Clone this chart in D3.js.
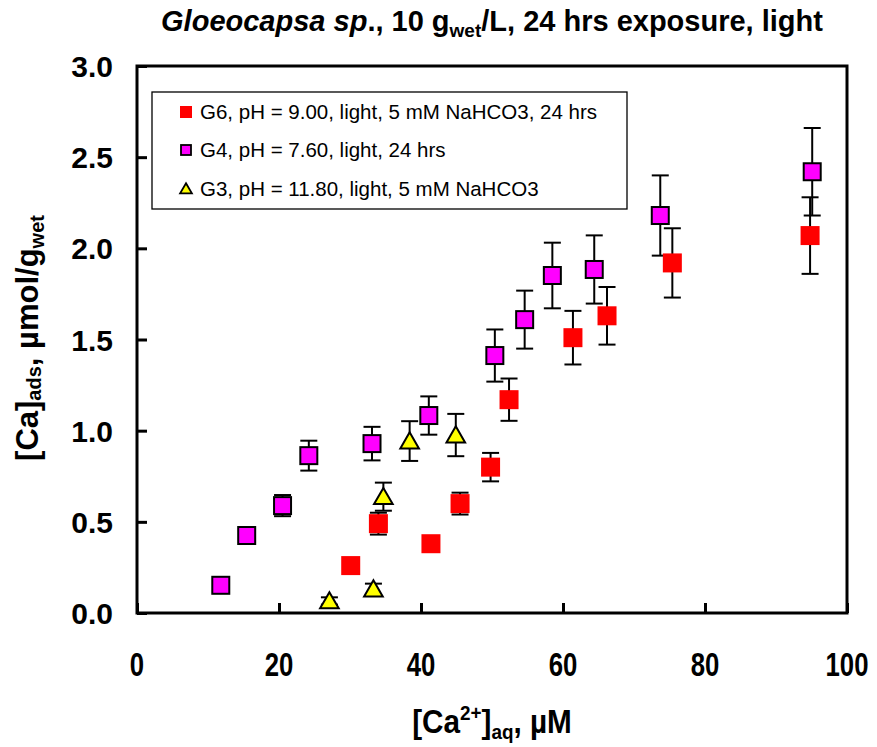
<!DOCTYPE html>
<html><head><meta charset="utf-8">
<script src="https://cdn.jsdelivr.net/npm/d3@7/dist/d3.min.js"></script>
<style>body{margin:0;background:#fff}svg{display:block}text{font-family:"Liberation Sans",Arial,sans-serif}</style>
</head><body>
<svg id="c" width="877" height="747"></svg>
<script>
// ---- data ----
const g6X = [30.1, 34.0, 41.4, 45.5, 49.8, 52.4, 61.4, 66.2, 75.4, 94.8];
const g6Y = [0.26, 0.49, 0.38, 0.60, 0.80, 1.17, 1.51, 1.63, 1.92, 2.07];
const g6E = [0.0, 0.06, 0.0, 0.06, 0.078, 0.116, 0.147, 0.158, 0.19, 0.21];
const g4X = [11.8, 15.45, 20.5, 24.2, 33.1, 41.1, 50.4, 54.6, 58.5, 64.4, 73.7, 95.1];
const g4Y = [0.152, 0.425, 0.589, 0.863, 0.929, 1.083, 1.412, 1.609, 1.851, 1.884, 2.18, 2.42];
const g4E = [0.0, 0.0, 0.058, 0.082, 0.092, 0.105, 0.143, 0.159, 0.18, 0.187, 0.22, 0.24];
const g3X = [27.1, 33.3, 34.7, 38.4, 44.9];
const g3Y = [0.066, 0.131, 0.638, 0.943, 0.976];
const g3E = [0.02, 0.03, 0.077, 0.109, 0.116];
const xTicks = [0, 20, 40, 60, 80, 100];
const yTicks = [0.0, 0.5, 1.0, 1.5, 2.0, 2.5, 3.0];
const legendLabels = ["G6, pH = 9.00, light, 5 mM NaHCO3, 24 hrs", "G4, pH = 7.60, light, 24 hrs", "G3, pH = 11.80, light, 5 mM NaHCO3"];

const svg = d3.select("#c");
const L = 137, R = 847, T = 66, B = 613;
const x = d3.scaleLinear().domain([0, 100]).range([L, R]);
const y = d3.scaleLinear().domain([0, 3]).range([B, T]);

// axes (ticks inside)
const xAxis = svg.append("g").attr("transform", `translate(0,${B})`)
  .call(d3.axisTop(x).tickValues(xTicks).tickSize(10).tickFormat(""));
const yAxis = svg.append("g").attr("transform", `translate(${L},0)`)
  .call(d3.axisRight(y).tickValues(yTicks).tickSize(10).tickFormat(""));
[xAxis, yAxis].forEach(a => { a.selectAll("line").attr("stroke", "#000").attr("stroke-width", 3); a.select(".domain").remove(); });

// frame
svg.append("rect").attr("x", L).attr("y", T).attr("width", R - L).attr("height", B - T)
  .attr("fill", "none").attr("stroke", "#000").attr("stroke-width", 3);

// tick labels
svg.append("g").selectAll("text").data(xTicks).join("text")
  .attr("transform", d => `translate(${x(d)},676) scale(0.78,1)`).attr("text-anchor", "middle")
  .attr("font-size", 33).attr("font-weight", "bold").text(d => d);
svg.append("g").selectAll("text").data(yTicks).join("text")
  .attr("x", 113).attr("y", d => y(d) + 11).attr("text-anchor", "end")
  .attr("font-size", 30).attr("font-weight", "bold").text(d => d.toFixed(1));

// title
const title = svg.append("text").attr("x", 492).attr("y", 31).attr("text-anchor", "middle")
  .attr("font-size", 29).attr("font-weight", "bold");
title.append("tspan").attr("font-style", "italic").text("Gloeocapsa sp");
title.append("tspan").text("., 10 g");
title.append("tspan").attr("font-size", 19).attr("dy", 6).text("wet");
title.append("tspan").attr("dy", -6).text("/L, 24 hrs exposure, light");

// axis titles
const xt = svg.append("text").attr("transform", "translate(492,733) scale(0.9,1)").attr("text-anchor", "middle")
  .attr("font-size", 33).attr("font-weight", "bold");
xt.append("tspan").text("[Ca");
xt.append("tspan").attr("font-size", 21).attr("dy", -13).text("2+");
xt.append("tspan").attr("dy", 13).text("]");
xt.append("tspan").attr("font-size", 21).attr("dy", 6).text("aq");
xt.append("tspan").attr("dy", -6).text(", µM");

const yt = svg.append("text").attr("transform", "translate(38,338) rotate(-90)").attr("text-anchor", "middle")
  .attr("font-size", 31).attr("font-weight", "bold");
yt.append("tspan").text("[Ca]");
yt.append("tspan").attr("font-size", 20).attr("dy", 3).text("ads");
yt.append("tspan").attr("dy", -3).text(", µmol/g");
yt.append("tspan").attr("font-size", 20).attr("dy", 6).text("wet");

// series drawing
function errBars(X, Y, E) {
  const g = svg.append("g").attr("stroke", "#000").attr("stroke-width", 2);
  X.forEach((v, i) => {
    if (!E[i]) return;
    const cx = x(v), y1 = y(Y[i] + E[i]), y2 = y(Y[i] - E[i]);
    g.append("line").attr("x1", cx).attr("x2", cx).attr("y1", y1).attr("y2", y2);
    g.append("line").attr("x1", cx - 8.5).attr("x2", cx + 8.5).attr("y1", y1).attr("y2", y1);
    g.append("line").attr("x1", cx - 8.5).attr("x2", cx + 8.5).attr("y1", y2).attr("y2", y2);
  });
}
errBars(g6X, g6Y, g6E);
errBars(g4X, g4Y, g4E);
errBars(g3X, g3Y, g3E);

const sq = 19;
svg.append("g").selectAll("rect").data(g6X).join("rect")
  .attr("x", (d) => x(d) - sq / 2).attr("y", (d, i) => y(g6Y[i]) - sq / 2)
  .attr("width", sq).attr("height", sq).attr("fill", "#ff0000");
svg.append("g").selectAll("rect").data(g4X).join("rect")
  .attr("x", (d) => x(d) - 8.5).attr("y", (d, i) => y(g4Y[i]) - 8.5)
  .attr("width", 17).attr("height", 17).attr("fill", "#ff00ff").attr("stroke", "#000").attr("stroke-width", 2);
const tri = d3.symbol().type(d3.symbolTriangle).size(150);
svg.append("g").selectAll("path").data(g3X).join("path")
  .attr("d", tri).attr("transform", (d, i) => `translate(${x(d)},${y(g3Y[i]) + 2})`)
  .attr("fill", "#ffff00").attr("stroke", "#000").attr("stroke-width", 2);

// legend
const lg = svg.append("g");
lg.append("rect").attr("x", 152).attr("y", 92).attr("width", 475).attr("height", 117)
  .attr("fill", "#fff").attr("stroke", "#000").attr("stroke-width", 1.3);
const rows = [112, 150, 189];
lg.append("rect").attr("x", 180).attr("y", rows[0] - 6).attr("width", 12).attr("height", 12).attr("fill", "#ff0000");
lg.append("rect").attr("x", 181).attr("y", rows[1] - 5).attr("width", 10).attr("height", 10).attr("fill", "#ff00ff").attr("stroke", "#000").attr("stroke-width", 1.8);
lg.append("path").attr("d", d3.symbol().type(d3.symbolTriangle).size(60)).attr("transform", `translate(186,${rows[2] + 1})`)
  .attr("fill", "#ffff00").attr("stroke", "#000").attr("stroke-width", 1.8);
lg.selectAll("text.l").data(legendLabels).join("text").attr("class", "l")
  .attr("x", 200).attr("y", (d, i) => rows[i] + 7).attr("font-size", 20.5).text(d => d);
</script>
</body></html>
